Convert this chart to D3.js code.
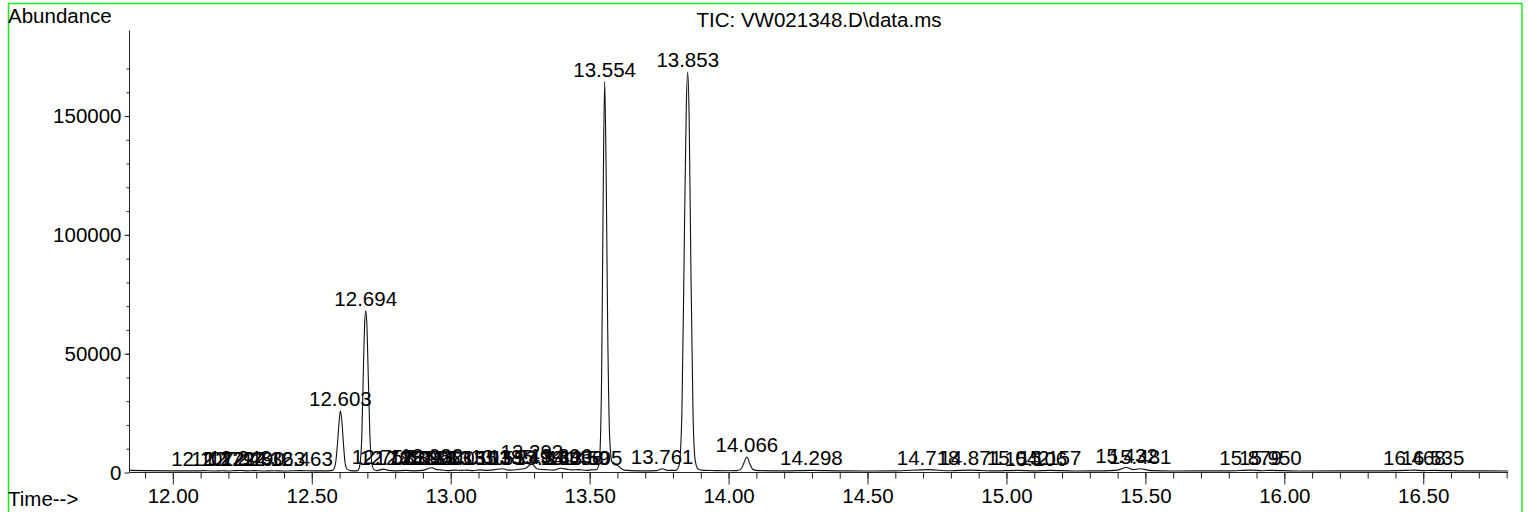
<!DOCTYPE html>
<html>
<head>
<meta charset="utf-8">
<script src="https://cdn.jsdelivr.net/npm/d3@7/dist/d3.min.js"></script>
<style>
  html, body { margin: 0; padding: 0; background: #fff; }
  svg text { font-family: "Liberation Sans", Arial, sans-serif; fill: #000; }
</style>
</head>
<body>
<script>
// DATA ––––––––––––––––––––––––––––––––––––––––––––––––––––––––––––––––

  var title = "TIC: VW021348.D\\data.ms";

  // retention time (min)
  var times = [
    11.844, 11.90, 12.00, 12.10, 12.107, 12.15, 12.179, 12.20, 12.224, 12.243,
    12.27, 12.290, 12.33, 12.363, 12.40, 12.463, 12.50, 12.56, 12.575, 12.585,
    12.593, 12.598, 12.603, 12.608, 12.614, 12.62, 12.628, 12.64, 12.655, 12.665,
    12.672, 12.68, 12.686, 12.690, 12.694, 12.698, 12.703, 12.709, 12.716, 12.724,
    12.735, 12.757, 12.775, 12.80, 12.839, 12.87, 12.90, 12.932, 12.95, 12.963,
    12.99, 13.013, 13.04, 13.055, 13.08, 13.103, 13.13, 13.155, 13.185, 13.21,
    13.249, 13.27, 13.292, 13.31, 13.341, 13.37, 13.396, 13.42, 13.436, 13.459,
    13.49, 13.505, 13.525, 13.535, 13.543, 13.549, 13.554, 13.559, 13.565, 13.572,
    13.58, 13.59, 13.60, 13.61, 13.625, 13.65, 13.70, 13.74, 13.761, 13.78,
    13.81, 13.822, 13.832, 13.841, 13.848, 13.853, 13.858, 13.864, 13.872, 13.88,
    13.89, 13.91, 13.95, 14.00, 14.03, 14.045, 14.055, 14.066, 14.077, 14.088,
    14.11, 14.20, 14.298, 14.40, 14.50, 14.60, 14.718, 14.80, 14.871, 14.95,
    15.042, 15.10, 15.157, 15.25, 15.35, 15.40, 15.432, 15.455, 15.481, 15.52,
    15.60, 15.70, 15.80, 15.879, 15.92, 15.950, 16.05, 16.20, 16.35, 16.44,
    16.468, 16.50, 16.535, 16.65, 16.805
  ];

  // total ion current abundance
  var abundance = [
    900, 800, 700, 700, 800, 650, 750, 650, 800, 850,
    700, 800, 650, 750, 650, 800, 700, 700, 900, 3500,
    13000, 21000, 26000, 22000, 12000, 4000, 1300, 800, 700, 800,
    2500, 15000, 45000, 62000, 68000, 63000, 42000, 16000, 4000, 1200,
    800, 1400, 900, 700, 900, 700, 900, 2000, 1200, 1100,
    800, 1000, 900, 1000, 800, 1100, 900, 1100, 1600, 1000,
    1400, 1800, 3600, 1600, 1200, 1000, 1800, 1300, 1100, 1200,
    900, 1100, 1200, 5000, 40000, 120000, 164500, 130000, 60000, 15000,
    4500, 3300, 3000, 2000, 1000, 800, 700, 800, 1600, 900,
    900, 3000, 25000, 100000, 155000, 168500, 150000, 90000, 25000, 5000,
    1500, 900, 800, 750, 800, 1500, 4000, 6500, 3500, 1200,
    800, 700, 900, 700, 650, 700, 1200, 750, 1000, 700,
    900, 700, 900, 650, 700, 1000, 2100, 1200, 1600, 800,
    650, 700, 700, 1000, 750, 900, 650, 700, 700, 900,
    1000, 800, 900, 700, 650
  ];

  // integrated peak labels (retention times)
  var peakLabels = [
    12.107, 12.179, 12.224, 12.243, 12.290, 12.363, 12.463,
    12.603, 12.694,
    12.757, 12.785, 12.839, 12.893, 12.932, 12.963, 13.013, 13.055, 13.103,
    13.155, 13.185, 13.249, 13.292, 13.341, 13.396, 13.436, 13.459, 13.505,
    13.554, 13.761, 13.853, 14.066, 14.298, 14.718, 14.871,
    15.042, 15.106, 15.157, 15.432, 15.481, 15.879, 15.950, 16.468, 16.535
  ];

  var xMajorTicks = [12.00, 12.50, 13.00, 13.50, 14.00, 14.50, 15.00, 15.50, 16.00, 16.50];
  var yMajorTicks = [0, 50000, 100000, 150000];

// LAYOUT –––––––––––––––––––––––––––––––––––––––––––––––––––––––––––––

  var width = 1528,
      height = 512,
      xLeft = 129.5,
      xRight = 1508,
      yTop = 30.5,
      yBase = 472.5,
      fontSize = "20.5px";

  var x = d3.scaleLinear()
    .domain([11.844, 16.805])
    .range([xLeft, xRight]);

  var y = d3.scaleLinear()
    .domain([0, 186000])
    .range([yBase, yTop]);

  var trace = times.map(function(t, i) { return {t: t, a: abundance[i]}; });

  var svg = d3.select("body").append("svg")
    .attr("width", width)
    .attr("height", height);

  // green frame around the plot window
  svg.append("rect")
    .attr("x", 8.5)
    .attr("y", 3.5)
    .attr("width", 1513.5)
    .attr("height", 600)
    .attr("fill", "none")
    .attr("stroke", "#22e622")
    .attr("stroke-width", 1.5);

// TEXT –––––––––––––––––––––––––––––––––––––––––––––––––––––––––––––––

  svg.append("text")
    .attr("x", 8)
    .attr("y", 23)
    .style("font-size", fontSize)
    .text("Abundance");

  svg.append("text")
    .attr("x", 819)
    .attr("y", 27)
    .attr("text-anchor", "middle")
    .style("font-size", fontSize)
    .text(title);

  svg.append("text")
    .attr("x", 8)
    .attr("y", 506)
    .style("font-size", fontSize)
    .text("Time-->");

// AXES –––––––––––––––––––––––––––––––––––––––––––––––––––––––––––––––

  svg.append("g")
    .attr("transform", "translate(0," + yBase + ")")
    .call(d3.axisBottom(x)
      .tickValues(d3.range(11.9, 16.85, 0.1))
      .tickSize(6)
      .tickFormat(""));

  svg.append("g")
    .attr("transform", "translate(0," + yBase + ")")
    .call(d3.axisBottom(x)
      .tickValues(xMajorTicks)
      .tickSize(12)
      .tickPadding(4)
      .tickFormat(d3.format(".2f")))
    .call(function(g) { g.select(".domain").remove(); });

  svg.append("g")
    .attr("transform", "translate(" + xLeft + ",0)")
    .call(d3.axisLeft(y)
      .tickValues(d3.range(10000, 175000, 10000))
      .tickSize(3)
      .tickFormat(""));

  svg.append("g")
    .attr("transform", "translate(" + xLeft + ",0)")
    .call(d3.axisLeft(y)
      .tickValues(yMajorTicks)
      .tickSize(5)
      .tickPadding(3)
      .tickFormat(d3.format("d")))
    .call(function(g) { g.select(".domain").remove(); });

  svg.selectAll(".domain, .tick line")
    .attr("stroke", "#222")
    .attr("stroke-width", 1);

  svg.selectAll(".tick text")
    .style("font-size", fontSize)
    .attr("fill", "#000");

  // trim axis lines to the plot box
  svg.selectAll(".domain").attr("d", function() {
    return d3.select(this.parentNode).attr("transform").indexOf("translate(0,") === 0
      ? "M" + xLeft + ",0H" + xRight
      : "M0," + yTop + "V" + yBase;
  });

// PEAK LABELS ––––––––––––––––––––––––––––––––––––––––––––––––––––––––

  var bisect = d3.bisector(function(d) { return d.t; }).center;

  svg.append("g")
    .selectAll("text")
    .data(peakLabels)
    .join("text")
      .attr("x", function(d) { return x(d); })
      .attr("y", function(d) {
        var a = d3.max(trace.filter(function(p) { return Math.abs(p.t - d) < 0.006; }), function(p) { return p.a; });
        if (a === undefined) a = trace[bisect(trace, d)].a;
        return y(a) - 5;
      })
      .attr("text-anchor", "middle")
      .style("font-size", fontSize)
      .text(function(d) { return d3.format(".3f")(d); });

// TRACE ––––––––––––––––––––––––––––––––––––––––––––––––––––––––––––––

  var line = d3.line()
    .x(function(d) { return x(d.t); })
    .y(function(d) { return y(d.a); })
    .curve(d3.curveMonotoneX);

  svg.append("path")
    .datum(trace)
    .attr("fill", "none")
    .attr("stroke", "#111")
    .attr("stroke-width", 1.1)
    .attr("stroke-linejoin", "round")
    .attr("d", line);
</script>
</body>
</html>
